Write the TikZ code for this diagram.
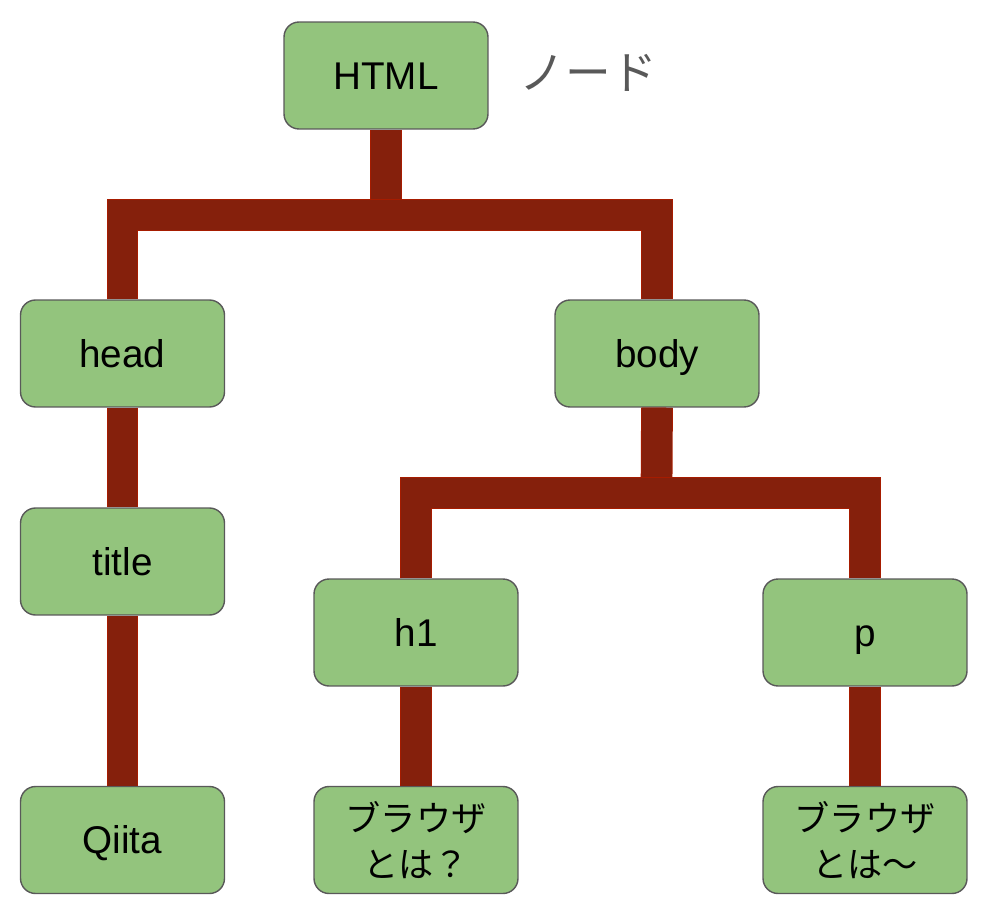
\documentclass[tikz,border=0pt]{standalone}
\usepackage{fontspec}
\setmainfont{Liberation Sans}
\newfontfamily\jp{Noto Sans CJK JP}
\usetikzlibrary{positioning}
\definecolor{leaf}{HTML}{93C47D}
\definecolor{edge}{HTML}{595959}
\definecolor{berry}{HTML}{85200C}
\definecolor{berryline}{HTML}{A61C00}
\tikzset{
	elem/.style={draw=edge, fill=leaf, rounded corners=0.3cm, line width=0.8pt, minimum width=4.08cm, minimum height=2.14cm, inner sep=0pt, align=center, text height=15.8pt, text depth=0pt, font=\fontsize{22}{26}\selectfont},
	% japanese text inside boxes
	jptext/.style={text height=, text depth=, font=\jp\fontsize{20}{26.6}\selectfont},
	bar/.style={draw=berryline, line width=0.5pt, double=berry, double distance=0.6cm},
}

\begin{document}
\begin{tikzpicture}[x=0.02cm, y=-0.02cm]
		\useasboundingbox (0,0) rectangle (986,912);
		
		\node (html) [elem] at (386,75.5) {HTML};
		\node (label) [right=0.5cm of html, text=edge, font=\jp\fontsize{26}{30}\selectfont, yshift=0.05cm] {ノード};
		
		\node (head) [elem] at (122.5,353.5) {head};
		\node (body) [elem] at (657,353.5) {body};
		\node (title) [elem] at (122.5,561.5) {title};
		\node (h1) [elem] at (416,632.5) {h1};
		\node (p) [elem] at (865,632.5) {p};
		\node (qiita) [elem] at (122.5,840) {Qiita};
		\node (what) [elem, jptext] at (416,840) {ブラウザ\\とは？};
		\node (about) [elem, jptext] at (865,840) {ブラウザ\\とは〜};
		
		\coordinate (j1) at (386,215);
		\coordinate (j2) at (656.5,493);
		
		\draw [bar] (html.south) -- (j1);
		\draw [bar] (head.north) |- (j1) -| (body.north);
		\draw [bar] (head.south) -- (title.north);
		\draw [bar] (title.south) -- (qiita.north);
		\draw [bar] (body.south) -- (j2);
		\draw [bar] (h1.north) |- (j2) -| (p.north);
		\draw [bar] (h1.south) -- (what.north);
		\draw [bar] (p.south) -- (about.north);
		
	\end{tikzpicture}
\end{document}
